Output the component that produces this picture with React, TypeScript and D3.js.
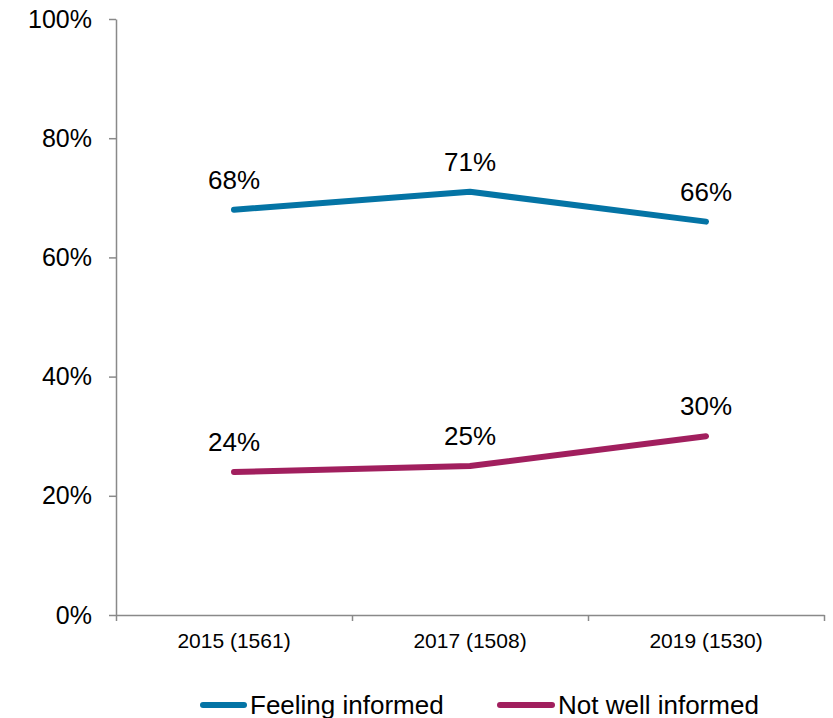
import React, { useRef, useEffect } from 'react';
import * as d3 from 'd3';

const categories = ['2015 (1561)', '2017 (1508)', '2019 (1530)'];
const feelingInformed = [68, 71, 66];
const notWellInformed = [24, 25, 30];
const yTicks = [0, 20, 40, 60, 80, 100];
const seriesNames = ['Feeling informed', 'Not well informed'];
const seriesColors = ['#0474a5', '#a11f5e'];

const FONT = '"Liberation Sans", Arial, sans-serif';

const App = () => {
    const svgRef = useRef(null);

    useEffect(() => {
        if (svgRef.current) {
            drawChart(svgRef.current);
        }
    }, []);

    return (
        <svg
            ref={svgRef}
            width={833}
            height={718}
            style={{ position: 'absolute', left: 0, top: 0, background: '#fff' }}
        ></svg>
    );
};

function drawChart(node) {
    const left = 116;
    const right = 824;
    const top = 19;
    const bottom = 615;

    const svg = d3.select(node);
    svg.selectAll('*').remove();

    const x = d3.scaleBand().domain(categories).range([left, right]).padding(0);
    const y = d3.scaleLinear().domain([0, 100]).range([bottom, top]);

    // y axis
    const yAxis = d3.axisLeft(y)
        .tickValues(yTicks)
        .tickSize(7)
        .tickSizeOuter(0)
        .tickPadding(17)
        .tickFormat(d => d + '%');

    const gy = svg.append('g')
        .attr('transform', `translate(${left},0)`)
        .call(yAxis);
    gy.select('.domain').attr('stroke', '#898989').attr('stroke-width', 1.5);
    gy.selectAll('.tick line').attr('stroke', '#898989').attr('stroke-width', 1.5);
    gy.selectAll('.tick text')
        .attr('fill', '#000')
        .style('font-family', FONT)
        .style('font-size', '25px');

    // x axis: ticks on band boundaries
    const xb = d3.scaleLinear().domain([0, categories.length]).range([left, right]);
    const gx = svg.append('g')
        .attr('transform', `translate(0,${bottom})`)
        .call(d3.axisBottom(xb).tickValues(d3.range(categories.length + 1)).tickSize(6).tickSizeOuter(0).tickFormat(() => ''));
    gx.select('.domain').attr('stroke', '#898989').attr('stroke-width', 1.5);
    gx.selectAll('.tick line').attr('stroke', '#898989').attr('stroke-width', 1.5);

    // category labels
    const gl = svg.append('g')
        .attr('transform', `translate(0,${bottom})`)
        .call(d3.axisBottom(x).tickSize(0).tickPadding(18));
    gl.select('.domain').remove();
    gl.selectAll('.tick text')
        .attr('fill', '#000')
        .style('font-family', FONT)
        .style('font-size', '21px');

    const line = d3.line()
        .x((d, i) => x(categories[i]) + x.bandwidth() / 2)
        .y(d => y(d));

    [feelingInformed, notWellInformed].forEach((values, si) => {
        svg.append('path')
            .datum(values)
            .attr('fill', 'none')
            .attr('stroke', seriesColors[si])
            .attr('stroke-width', 6)
            .attr('stroke-linecap', 'round')
            .attr('stroke-linejoin', 'round')
            .attr('d', line);

        svg.selectAll(`.label-${si}`)
            .data(values)
            .enter().append('text')
            .attr('class', `label-${si}`)
            .attr('x', (d, i) => x(categories[i]) + x.bandwidth() / 2)
            .attr('y', d => y(d) - 21)
            .attr('text-anchor', 'middle')
            .style('font-family', FONT)
            .style('font-size', '26px')
            .text(d => d + '%');
    });

    // legend
    const legendX = [200, 500];
    const legend = svg.selectAll('.legend')
        .data(seriesNames)
        .enter().append('g')
        .attr('class', 'legend')
        .attr('transform', (d, i) => `translate(${legendX[i]},705)`);

    legend.append('line')
        .attr('x1', (d, i) => (i === 0 ? 3 : 0))
        .attr('x2', (d, i) => (i === 0 ? 44 : 52))
        .attr('stroke', (d, i) => seriesColors[i])
        .attr('stroke-width', 6)
        .attr('stroke-linecap', 'round');

    legend.append('text')
        .attr('x', (d, i) => (i === 0 ? 50 : 58))
        .attr('y', 9)
        .style('font-family', FONT)
        .style('font-size', '26px')
        .text(d => d);
}

export default App;
